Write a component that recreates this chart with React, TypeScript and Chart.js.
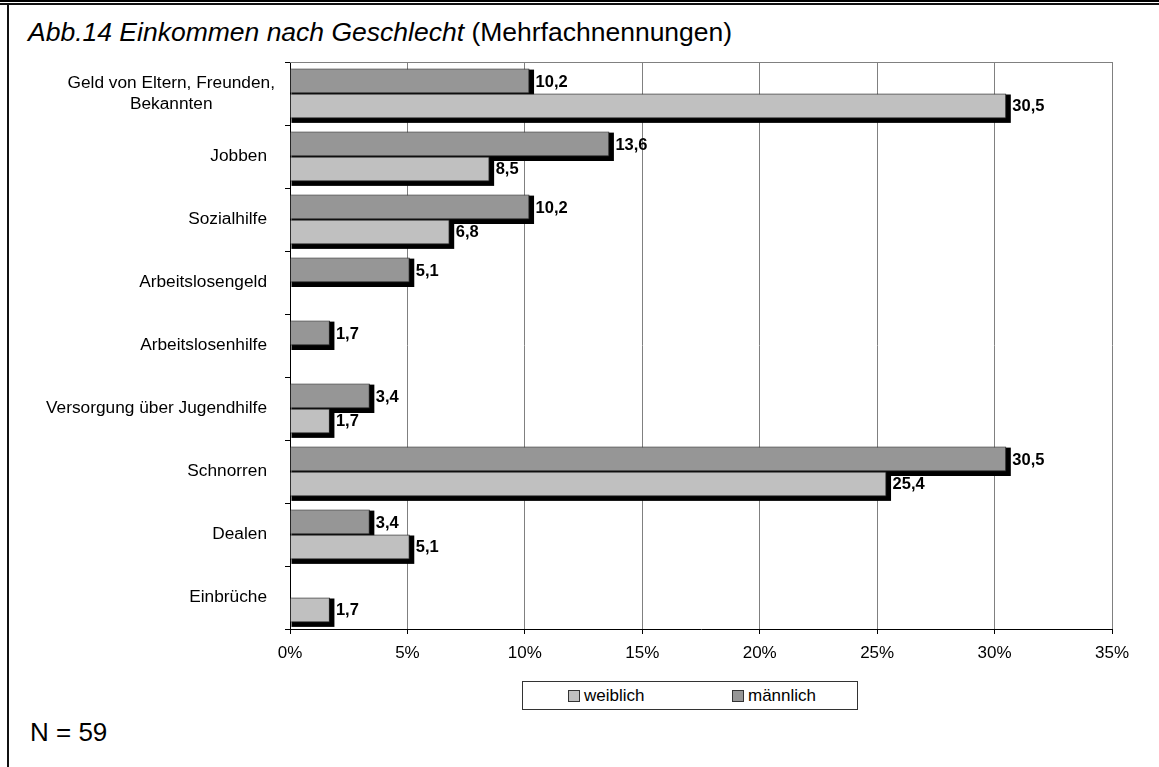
import React, { useEffect, useRef } from "react";
import { Chart, registerables } from "chart.js";

Chart.register(...registerables);

const categories: (string | string[])[] = [
  ["Geld von Eltern, Freunden,", "Bekannten"],
  "Jobben",
  "Sozialhilfe",
  "Arbeitslosengeld",
  "Arbeitslosenhilfe",
  "Versorgung über Jugendhilfe",
  "Schnorren",
  "Dealen",
  "Einbrüche",
];

const maennlich: (number | null)[] = [10.2, 13.6, 10.2, 5.1, 1.7, 3.4, 30.5, 3.4, null];
const weiblich: (number | null)[] = [30.5, 8.5, 6.8, null, null, 1.7, 25.4, 5.1, 1.7];

const xTicks = [0, 5, 10, 15, 20, 25, 30, 35];

const FONT = '"Liberation Sans", Arial, sans-serif';
const COLOR_M = "#969696";
const COLOR_W = "#c0c0c0";

const shadowPlugin = {
  id: "shadowPlugin",
  beforeDatasetsDraw(chart: any) {
    const ctx = chart.ctx;
    const area = chart.chartArea;
    ctx.save();
    ctx.strokeStyle = "#808080";
    ctx.lineWidth = 1;
    ctx.beginPath();
    ctx.moveTo(area.left, Math.round(area.top) + 0.5);
    ctx.lineTo(area.right, Math.round(area.top) + 0.5);
    ctx.stroke();
    ctx.fillStyle = "#000";
    chart.data.datasets.forEach((ds: any, di: number) => {
      const meta = chart.getDatasetMeta(di);
      meta.data.forEach((el: any, i: number) => {
        const v = ds.data[i];
        if (v === null || v === undefined) return;
        const { x, y, base, height } = el.getProps(["x", "y", "base", "height"], true);
        const top = y - height / 2;
        const bottom = y + height / 2;
        ctx.fillRect(base + 1, top + 1, x - base + 3.5, bottom - top + 3.5);
      });
    });
    ctx.restore();
  },
  afterDatasetsDraw(chart: any) {
    const ctx = chart.ctx;
    ctx.save();
    ctx.fillStyle = "#000";
    ctx.font = `bold 16.5px ${FONT}`;
    ctx.textAlign = "left";
    ctx.textBaseline = "middle";
    chart.data.datasets.forEach((ds: any, di: number) => {
      const meta = chart.getDatasetMeta(di);
      meta.data.forEach((el: any, i: number) => {
        const v = ds.data[i];
        if (v === null || v === undefined) return;
        const { x, y } = el.getProps(["x", "y"], true);
        ctx.fillText(v.toFixed(1).replace(".", ","), x + 6, y + 1);
      });
    });
    const ys = chart.scales.y;
    ctx.font = `17.3px ${FONT}`;
    ctx.fillStyle = "#000";
    categories.forEach((lab, i) => {
      const cy = ys.getPixelForValue(i);
      if (Array.isArray(lab)) {
        const widths = lab.map((l) => ctx.measureText(l).width);
        const maxW = Math.max(...widths);
        const cx = ys.right - 15 - maxW / 2;
        ctx.textAlign = "center";
        const lh = 21;
        lab.forEach((l, j) => {
          ctx.fillText(l, cx, cy + (j - (lab.length - 1) / 2) * lh);
        });
      } else {
        ctx.textAlign = "right";
        ctx.fillText(lab, ys.right - 23, cy);
      }
    });
    ctx.restore();
  },
};

function LegendItem({ color, label, left }: { color: string; label: string; left: number }) {
  return (
    <div style={{ position: "absolute", left, top: 0, height: 27, display: "flex", alignItems: "center" }}>
      <div
        style={{
          width: 10,
          height: 10,
          background: color,
          border: "1px solid #333",
          marginRight: 4,
        }}
      />
      <span style={{ fontFamily: FONT, fontSize: 17, color: "#000", lineHeight: "27px" }}>{label}</span>
    </div>
  );
}

export default function App() {
  const canvasRef = useRef<HTMLCanvasElement | null>(null);

  useEffect(() => {
    if (!canvasRef.current) return;
    const chart = new Chart(canvasRef.current, {
      type: "bar",
      data: {
        labels: categories as any,
        datasets: [
          {
            label: "männlich",
            data: maennlich as any,
            backgroundColor: COLOR_M,
            borderColor: "#222",
            borderWidth: 1,
            categoryPercentage: 0.79,
            barPercentage: 1,
          },
          {
            label: "weiblich",
            data: weiblich as any,
            backgroundColor: COLOR_W,
            borderColor: "#222",
            borderWidth: 1,
            categoryPercentage: 0.79,
            barPercentage: 1,
          },
        ],
      },
      options: {
        indexAxis: "y",
        animation: false,
        responsive: false,
        maintainAspectRatio: false,
        layout: { padding: { top: 12, right: 47, left: 0, bottom: 0 } },
        plugins: {
          legend: { display: false },
          tooltip: { enabled: false },
          title: { display: false },
        },
        scales: {
          x: {
            type: "linear",
            min: xTicks[0],
            max: xTicks[xTicks.length - 1],
            afterBuildTicks: (scale: any) => {
              scale.ticks = xTicks.map((v) => ({ value: v }));
            },
            ticks: {
              color: "#000",
              font: { family: FONT, size: 17 },
              padding: 9,
              maxRotation: 0,
              callback: (v: any) => `${v}%`,
            },
            grid: {
              color: "#808080",
              tickColor: "#000",
              tickLength: 5,
              lineWidth: 1,
            },
            border: { color: "#000", width: 1 },
            afterFit: (scale: any) => {
              scale.height = 51;
            },
          },
          y: {
            type: "category",
            ticks: { display: false },
            grid: {
              drawOnChartArea: false,
              drawTicks: true,
              tickLength: 5,
              color: "#000",
              offset: true,
            },
            border: { color: "#000", width: 1 },
            afterFit: (scale: any) => {
              scale.width = 290;
            },
          },
        },
      } as any,
      plugins: [shadowPlugin],
    });
    return () => chart.destroy();
  }, []);

  return (
    <div
      style={{
        position: "fixed",
        left: 0,
        top: 0,
        width: 1159,
        height: 767,
        background: "#fff",
        overflow: "hidden",
      }}
    >
      <div style={{ position: "absolute", left: 0, top: 0, width: 1159, height: 1.5, background: "#000" }} />
      <div style={{ position: "absolute", left: 0, top: 3, width: 1159, height: 2, background: "#111" }} />
      <div style={{ position: "absolute", left: 7, top: 5, width: 2, height: 762, background: "#111" }} />

      <div
        style={{
          position: "absolute",
          left: 28,
          top: 19,
          fontFamily: FONT,
          fontSize: 26.5,
          lineHeight: "26.5px",
          whiteSpace: "nowrap",
          color: "#000",
        }}
      >
        <span style={{ fontStyle: "italic" }}>Abb.14 Einkommen nach Geschlecht</span> (Mehrfachnennungen)
      </div>

      <canvas
        ref={canvasRef}
        width={1159}
        height={630}
        style={{ position: "absolute", left: 0, top: 50, width: 1159, height: 630, display: "block" }}
      />

      <div
        style={{
          position: "absolute",
          left: 522,
          top: 681,
          width: 334,
          height: 27,
          border: "1px solid #333",
        }}
      >
        <LegendItem color={COLOR_W} label="weiblich" left={45} />
        <LegendItem color={COLOR_M} label="männlich" left={209} />
      </div>

      <div
        style={{
          position: "absolute",
          left: 30,
          top: 719,
          fontFamily: FONT,
          fontSize: 26,
          lineHeight: "26px",
          whiteSpace: "nowrap",
          color: "#000",
        }}
      >
        N = 59
      </div>
    </div>
  );
}
